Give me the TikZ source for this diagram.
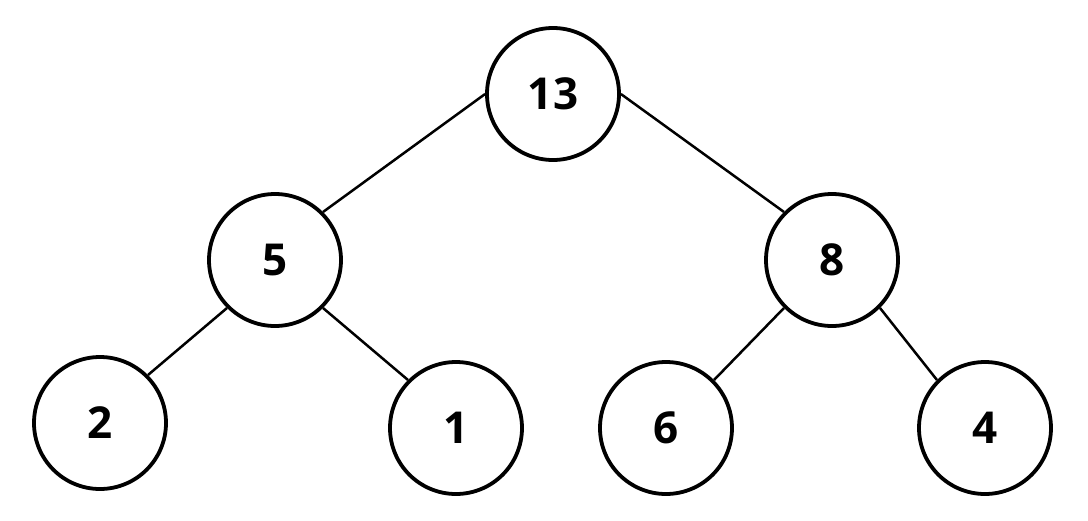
\documentclass[tikz,border=0pt]{standalone}
\usepackage{fontspec}
\setmainfont{Open Sans}
\usepackage{tikz}
\usetikzlibrary{
	positioning,
	calc
}
\tikzset{
	every picture/.style={
		line width=2.5pt,
		text=black,
		draw=black,
		x=1pt,
		y=-1pt,
	},
}
\tikzstyle{keynode} = [
	circle,
	draw=black,
	line width=3.8pt,
	minimum size=132pt,
	inner sep=0mm,
	font=\fontsize{44}{50}\selectfont\bfseries
]

\begin{document}
\begin{tikzpicture}
	\useasboundingbox (0, 0) rectangle (1088, 520);

	\foreach \k/\x/\y in {13/553/94, 5/275/260, 8/832/260, 2/100/423, 1/456/428, 6/666/428, 4/985/428}
		\node[keynode] (n\k) at (\x, \y) {\k};

	\draw (n13.west) -- (n5.north east);
	\draw (n13.east) -- (n8.north west);
	\foreach \p/\l/\r in {5/2/1, 8/6/4} {
		\draw (n\p.south west) -- (n\l.north east);
		\draw (n\p.south east) -- (n\r.north west);
	}
\end{tikzpicture}
\end{document}
